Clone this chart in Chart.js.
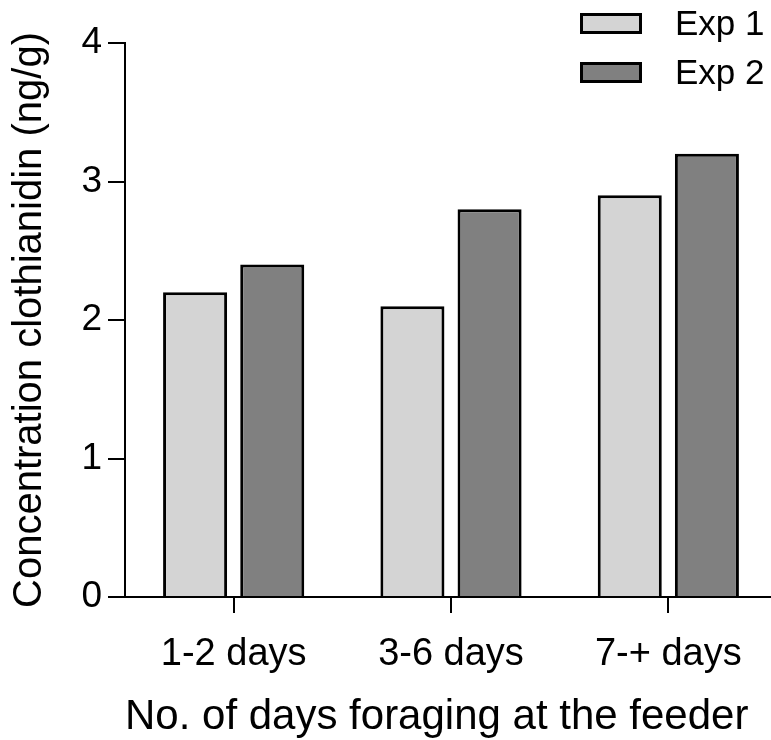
<!DOCTYPE html>
<html>
<head>
<meta charset="utf-8">
<script src="https://cdn.jsdelivr.net/npm/chart.js@4/dist/chart.umd.min.js"></script>
<style>
  html, body { margin: 0; padding: 0; background: #fff; overflow: hidden; }
  #wrap { width: 777px; height: 740px; }
</style>
</head>
<body>
<div id="wrap"><canvas id="myChart" width="777" height="740"></canvas></div>
<script>
var categories = ["1-2 days", "3-6 days", "7-+ days"];
var exp1 = [2.2, 2.1, 2.9];
var exp2 = [2.4, 2.8, 3.2];
var seriesNames = ["Exp 1", "Exp 2"];
var yTicks = [0, 1, 2, 3, 4];

var FONT = "'Liberation Sans', Arial, sans-serif";

// legend drawn by hand, it sits over the top right corner
var legendPlugin = {
    id: 'cornerLegend',
    afterDraw: function (chart) {
        var ctx = chart.ctx;
        ctx.save();
        chart.data.datasets.forEach(function (ds, i) {
            var y = 13 + i * 49;
            ctx.fillStyle = ds.backgroundColor;
            ctx.fillRect(580, y, 62, 21);
            ctx.lineWidth = 3;
            ctx.strokeStyle = '#000';
            ctx.strokeRect(581.5, y + 1.5, 59, 18);
            ctx.fillStyle = '#000';
            ctx.font = "35px " + FONT;
            ctx.textBaseline = 'middle';
            ctx.textAlign = 'left';
            ctx.fillText(ds.label, 675, y + 12);
        });
        ctx.restore();
    }
};

Chart.defaults.color = "#000";
const ctx = document.getElementById('myChart').getContext('2d');
const myChart = new Chart(ctx, {
    type: 'bar',
    data: {
        labels: categories,
        datasets: [{
            label: seriesNames[0],
            data: exp1,
            backgroundColor: '#d4d4d4',
            borderColor: '#000',
            borderWidth: 3
        }, {
            label: seriesNames[1],
            data: exp2,
            backgroundColor: '#808080',
            borderColor: '#000',
            borderWidth: 3
        }]
    },
    options: {
        responsive: false,
        animation: false,
        devicePixelRatio: 1,
        layout: { padding: { top: 43, right: 0, left: 0, bottom: 0 } },
        datasets: {
            bar: { categoryPercentage: 0.71, barPercentage: 0.83 }
        },
        scales: {
            x: {
                grid: { display: true, offset: false, drawOnChartArea: false, drawTicks: true, tickLength: 16, color: '#000', lineWidth: 2 },
                border: { display: true, color: '#000', width: 2 },
                ticks: { font: { family: FONT, size: 38 }, padding: 19, color: '#000' },
                title: { display: true, align: 'start', text: 'No. of days foraging at the feeder', font: { family: FONT, size: 42, lineHeight: 1 }, padding: { top: 0, bottom: 2 }, color: '#000' },
                afterFit: function (scale) { scale.height = 143; }
            },
            y: {
                min: 0,
                max: 4,
                afterBuildTicks: function (scale) {
                    scale.ticks = yTicks.map(function (v) { return { value: v }; });
                },
                grid: { display: true, drawOnChartArea: false, drawTicks: true, tickLength: 17, color: '#000', lineWidth: 2 },
                border: { display: true, color: '#000', width: 2 },
                ticks: { font: { family: FONT, size: 37 }, padding: 6, color: '#000' },
                title: { display: true, text: 'Concentration clothianidin (ng/g)', font: { family: FONT, size: 40, lineHeight: 1.2 }, padding: { top: 6, bottom: 0 }, color: '#000' },
                afterFit: function (scale) { scale.width = 125; }
            }
        },
        plugins: {
            legend: { display: false },
            tooltip: { enabled: false }
        }
    },
    plugins: [legendPlugin]
});
</script>
</body>
</html>
